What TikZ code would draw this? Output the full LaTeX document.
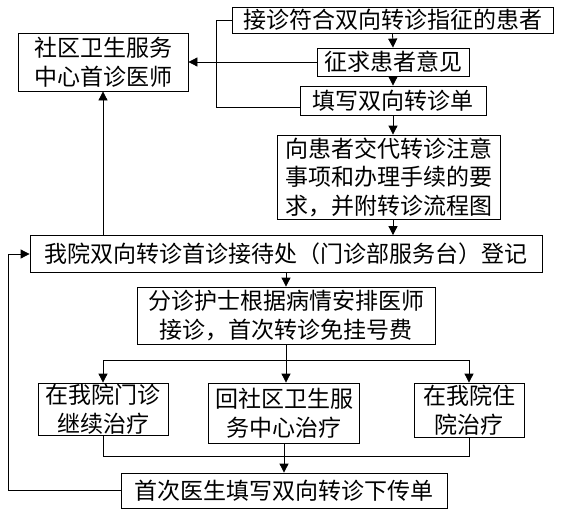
\documentclass[tikz,border=0pt]{standalone}
\usepackage{fontspec}
\newfontfamily\cjk{Noto Sans CJK SC}
\usetikzlibrary{arrows.meta}
\begin{document}
\begin{tikzpicture}[x=1pt,y=-1pt,
  box/.style={draw,line width=0.8pt,inner sep=0pt,align=center,
    font=\cjk\fontsize{23}{28.5}\selectfont},
  conn/.style={line width=0.8pt},
  arr/.style={line width=0.8pt,-{Triangle[length=9pt,width=9pt]}}]
\useasboundingbox (0,0) rectangle (561,514);
\node[box,minimum width=321pt,minimum height=26pt] (b1) at (392.5,20) {接诊符合双向转诊指征的患者};
\node[box,minimum width=152pt,minimum height=28pt] (b2) at (393,62) {征求患者意见};
\node[box,minimum width=186pt,minimum height=29pt] (b3) at (393,100.5) {填写双向转诊单};
\node[box,minimum width=170pt,minimum height=58pt] (sq) at (103,62) {社区卫生服务\\中心首诊医师};
\node[box,minimum width=223pt,minimum height=84pt] (b4) at (388.5,177) {向患者交代转诊注意\\事项和办理手续的要\\求，并附转诊流程图};
\node[box,minimum width=512pt,minimum height=37pt] (reg) at (286,254) {我院双向转诊首诊接待处（门诊部服务台）登记};
\node[box,minimum width=298pt,minimum height=57pt] (fz) at (286,315.5) {分诊护士根据病情安排医师\\接诊，首次转诊免挂号费};
\node[box,minimum width=130pt,minimum height=52pt] (o1) at (103,409) {在我院门诊\\继续治疗};
\node[box,minimum width=151pt,minimum height=60pt] (o2) at (284,413) {回社区卫生服\\务中心治疗};
\node[box,minimum width=110pt,minimum height=54pt] (o3) at (469,410) {在我院住\\院治疗};
\node[box,minimum width=326pt,minimum height=35pt] (last) at (284,490.5) {首次医生填写双向转诊下传单};
% coordinates
\coordinate (t1) at (216,20);
\coordinate (t2) at (216,107);
\coordinate (t3) at (b3.west |- t2);
\coordinate (br) at (0,360);
\coordinate (bc) at (0,456);
\coordinate (lf) at (8,0);
% top chain
\draw[arr] (b1.south) -- (b2.north);
\draw[arr] (b2.south) -- (b3.north);
\draw[arr] (b3.south) -- (b3.south |- b4.north);
\draw[arr] (b3.south |- b4.south) -- (b3.south |- reg.north);
\draw[conn] (b1.west) -- (t1) -- (t2) -- (t3);
\draw[arr] (b2.west) -- (sq.east);
\draw[arr] (sq.south |- reg.north) -- (sq.south);
% lower part
\draw[arr] (fz.north |- reg.south) -- (fz.north);
\draw[arr] (fz.south) -- (fz.south |- o2.north);
\draw[conn] (o1.north |- br) -- (o3.north |- br);
\draw[arr] (o1.north |- br) -- (o1.north);
\draw[arr] (o3.north |- br) -- (o3.north);
\draw[conn] (o1.south) -- (o1.south |- bc) -- (o3.south |- bc) -- (o3.south);
\draw[arr] (o2.south) -- (last.north);
\draw[arr] (last.west) -- (lf |- last.west) -- (lf |- reg.west) -- (reg.west);
\end{tikzpicture}
\end{document}
